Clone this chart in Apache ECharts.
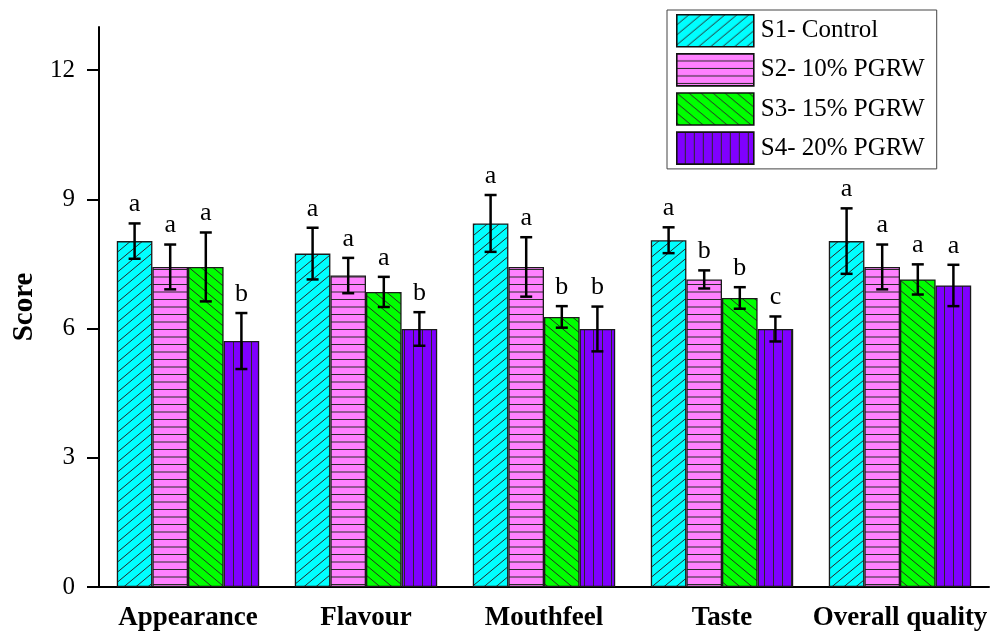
<!DOCTYPE html>
<html>
<head>
<meta charset="utf-8">
<script src="https://cdn.jsdelivr.net/npm/echarts@6/dist/echarts.min.js"></script>
<style>
  html, body { margin: 0; padding: 0; background: #fff; }
  #chart { width: 1005px; height: 632px; }
</style>
</head>
<body>
<div id="chart"></div>
<script>
// Sensory scores of the four formulations
const categories = ['Appearance', 'Flavour', 'Mouthfeel', 'Taste', 'Overall quality'];
const seriesNames = ['S1- Control', 'S2- 10% PGRW', 'S3- 15% PGRW', 'S4- 20% PGRW'];

const s1 = [8.03, 7.74, 8.44, 8.05, 8.03];
const s2 = [7.43, 7.23, 7.43, 7.14, 7.43];
const s3 = [7.43, 6.85, 6.27, 6.71, 7.14];
const s4 = [5.71, 5.99, 5.99, 5.99, 7.00];

// standard deviations
const e1 = [0.41, 0.60, 0.66, 0.30, 0.76];
const e2 = [0.52, 0.41, 0.69, 0.21, 0.52];
const e3 = [0.80, 0.35, 0.25, 0.25, 0.35];
const e4 = [0.65, 0.39, 0.52, 0.29, 0.48];

// significance letters
const g1 = ['a', 'a', 'a', 'a', 'a'];
const g2 = ['a', 'a', 'a', 'b', 'a'];
const g3 = ['a', 'a', 'b', 'b', 'a'];
const g4 = ['b', 'b', 'b', 'c', 'a'];

const yTicks = [0, 3, 6, 9, 12];

const values = [s1, s2, s3, s4];
const errors = [e1, e2, e3, e4];
const letters = [g1, g2, g3, g4];
const fills = ['#00FFFF', '#FF80FF', '#00FF00', '#8000FF'];
const hatches = ['slash', 'horizontal', 'backslash', 'vertical'];

const SERIF = '"Liberation Serif", "Times New Roman", serif';

// hatch fill tiles
function makePattern(bg, kind) {
  let w = 10, h = 10;
  if (kind === 'horizontal') { w = 8; h = 7.5; }
  if (kind === 'vertical') { w = 9; h = 9; }
  if (kind === 'slash' || kind === 'backslash') { w = 12; h = 10; }
  const c = document.createElement('canvas');
  c.width = Math.round(w); c.height = Math.round(h * 2);
  const ctx = c.getContext('2d');
  ctx.fillStyle = bg;
  ctx.fillRect(0, 0, c.width, c.height);
  ctx.strokeStyle = '#2a2a2a';
  ctx.lineWidth = 1;
  ctx.beginPath();
  if (kind === 'slash') {
    // tile holds two periods vertically so it stays seamless
    const W = c.width, H = c.height;
    for (let k = -1; k <= 2; k++) {
      const y0 = k * (H / 2);
      ctx.moveTo(0, y0 + H / 2); ctx.lineTo(W, y0);
    }
  } else if (kind === 'backslash') {
    const W = c.width, H = c.height;
    for (let k = -1; k <= 2; k++) {
      const y0 = k * (H / 2);
      ctx.moveTo(0, y0); ctx.lineTo(W, y0 + H / 2);
    }
  } else if (kind === 'horizontal') {
    ctx.moveTo(0, 7); ctx.lineTo(c.width, 7);
    ctx.moveTo(0, 14.5); ctx.lineTo(c.width, 14.5);
  } else {
    ctx.moveTo(c.width - 0.5, 0); ctx.lineTo(c.width - 0.5, c.height);
  }
  ctx.stroke();
  return { image: c, repeat: 'repeat' };
}

const barSeries = values.map((vals, i) => ({
  name: seriesNames[i],
  type: 'bar',
  data: vals,
  barGap: '0%',
  barCategoryGap: '20%',
  itemStyle: {
    color: makePattern(fills[i], hatches[i]),
    borderColor: '#1a1a1a',
    borderWidth: 1.3
  },
  emphasis: { disabled: true },
  z: 2
}));

const errSeries = values.map((vals, i) => ({
  type: 'custom',
  name: 'err' + i,
  data: vals.map((v, k) => [k, v, errors[i][k], letters[i][k]]),
  encode: { x: 0, y: 1 },
  z: 5,
  silent: true,
  renderItem: function (params, api) {
    const k = api.value(0);
    const v = api.value(1);
    const e = api.value(2);
    const band = api.size([1, 0])[0];
    const bw = band * 0.8 / 4;
    const cx = api.coord([k, v])[0] + (i - 1.5) * bw;
    const top = api.coord([k, v + e])[1];
    const bot = api.coord([k, v - e])[1];
    const cap = 6;
    const ls = { stroke: '#000', lineWidth: 2.5 };
    return {
      type: 'group',
      children: [
        { type: 'line', shape: { x1: cx, y1: top, x2: cx, y2: bot }, style: ls },
        { type: 'line', shape: { x1: cx - cap, y1: top, x2: cx + cap, y2: top }, style: ls },
        { type: 'line', shape: { x1: cx - cap, y1: bot, x2: cx + cap, y2: bot }, style: ls },
        {
          type: 'text',
          style: {
            text: api.value(3),
            x: cx,
            y: top - 6,
            align: 'center',
            verticalAlign: 'bottom',
            font: '26px ' + SERIF,
            fill: '#000'
          }
        }
      ]
    };
  }
}));

const chart = echarts.init(document.getElementById('chart'), null, { renderer: 'canvas' });
chart.setOption({
  animation: false,
  backgroundColor: '#fff',
  grid: { left: 99, right: 16, top: 27, bottom: 45, containLabel: false },
  legend: {
    data: seriesNames,
    orient: 'vertical',
    left: 667,
    top: 10,
    itemWidth: 77,
    itemHeight: 32,
    itemGap: 5.5,
    padding: [4, 12, 4, 9],
    borderColor: '#444',
    borderWidth: 1,
    selectedMode: false,
    icon: 'rect',
    itemStyle: { borderColor: '#111', borderWidth: 1.6 },
    textStyle: { fontFamily: SERIF, fontSize: 25, color: '#000', padding: [0, 0, 0, 2] }
  },
  xAxis: {
    type: 'category',
    data: categories,
    axisLine: { lineStyle: { color: '#000', width: 2 } },
    axisTick: { alignWithLabel: true, length: 12, lineStyle: { color: '#000', width: 2 } },
    axisLabel: {
      interval: 0,
      margin: 18,
      fontFamily: SERIF,
      fontWeight: 'bold',
      fontSize: 27,
      color: '#000'
    },
    splitLine: { show: false }
  },
  yAxis: {
    type: 'value',
    min: 0,
    max: 13,
    interval: 3,
    name: 'Score',
    nameLocation: 'middle',
    nameGap: 60,
    nameTextStyle: { fontFamily: SERIF, fontWeight: 'bold', fontSize: 29, color: '#000' },
    axisLine: { show: true, lineStyle: { color: '#000', width: 2 } },
    axisTick: { show: true, length: 12, customValues: yTicks, lineStyle: { color: '#000', width: 2 } },
    axisLabel: { margin: 24, customValues: yTicks, fontFamily: SERIF, fontSize: 25, color: '#000' },
    splitLine: { show: false }
  },
  series: barSeries.concat(errSeries)
});
</script>
</body>
</html>
